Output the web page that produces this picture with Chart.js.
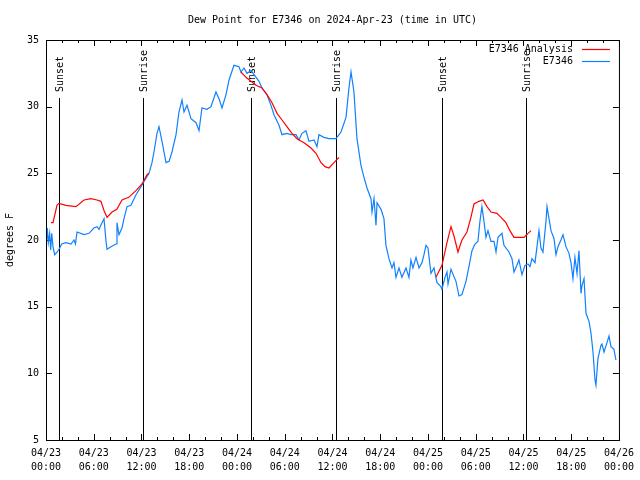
<!DOCTYPE html>
<html lang="en">
<head>
  <meta charset="UTF-8">
  <title>Dew Point for E7346</title>
  <script src="https://cdn.jsdelivr.net/npm/chart.js"></script>
  <style>
    body {
      margin: 0;
      background-color: #fff;
    }
    canvas {
      display: block;
    }
  </style>
</head>
<body>
  <canvas id="chart" width="640" height="480"></canvas>

  <script>
    // hours since 04/23 00:00 UTC
    const blueHours = [
      0, 0.16, 0.29, 0.46, 0.59, 0.72, 0.88, 1.09, 1.42, 1.72, 1.97, 2.51, 3.14, 3.52, 3.7, 3.9,
      4.78, 5.4, 6.03, 6.41, 6.66, 7.04, 7.29, 7.54, 7.67, 8.17, 8.8, 8.92, 9.17, 9.55, 9.8,
      10.18, 10.68, 11.31, 11.94, 12.32, 12.94, 13.32, 13.57, 13.95, 14.2, 14.58, 15.08, 15.46,
      15.83, 16.34, 16.71, 17.09, 17.34, 17.72, 18.22, 18.85, 19.23, 19.6, 20.23, 20.73, 21.36,
      21.74, 22.12, 22.62, 23.0, 23.62, 24.25, 24.5, 24.88, 25.26, 25.76, 26.14, 26.77, 27.14,
      27.77, 28.27, 28.65, 29.28, 29.66, 30.28, 30.79, 31.42, 31.79, 32.17, 32.67, 33.05, 33.68,
      34.05, 34.3, 34.93, 35.56, 36.44, 37.07, 37.7, 38.07, 38.33, 38.7, 39.08, 39.58, 39.96,
      40.34, 40.84, 40.97, 41.22, 41.47, 41.6, 42.1, 42.47, 42.72, 43.1, 43.48, 43.73, 43.98,
      44.36, 44.73, 45.24, 45.61, 45.86, 46.11, 46.5, 46.87, 47.25, 47.5, 47.75, 48.0, 48.38,
      48.76, 49.13, 49.63, 49.76, 50.14, 50.39, 50.52, 50.89, 51.52, 51.9, 52.27, 52.78, 53.15,
      53.53, 53.9, 54.28, 54.53, 54.78, 55.04, 55.29, 55.54, 55.92, 56.3, 56.55, 56.8, 57.3,
      57.55, 58.18, 58.56, 58.81, 59.18, 59.43, 59.81, 60.19, 60.57, 60.82, 61.07, 61.45, 61.7,
      61.95, 62.2, 62.45, 62.83, 62.96, 63.21, 63.46, 63.84, 64.09, 64.34, 64.71, 64.97, 65.34,
      65.72, 65.97, 66.22, 66.47, 66.73, 66.98, 67.23, 67.36, 67.61, 67.86, 68.24, 68.49, 68.74,
      68.99, 69.11, 69.36, 69.74, 69.87, 70.12, 70.5, 70.75, 71.0, 71.37, 71.62
    ];
    const blueValues = [
      19.25, 20.9, 19.8, 20.5, 19.25, 20.5, 19.5, 18.9, 19.1, 19.4, 19.7, 19.8, 19.7, 20.0, 19.7, 20.6,
      20.4, 20.5, 20.9, 21.0, 20.8, 21.3, 21.6, 19.9, 19.3, 19.5, 19.7, 21.3, 20.4, 20.9, 21.6,
      22.5, 22.6, 23.4, 24.0, 24.4, 25.0, 25.8, 26.6, 28.0, 28.5, 27.4, 25.8, 25.9,
      26.6, 27.9, 29.6, 30.5, 29.6, 30.1, 29.1, 28.8, 28.2, 29.9, 29.8, 30.0, 31.1,
      30.6, 29.9, 30.9, 32.0, 33.1, 33.0, 32.6, 32.9, 32.5, 32.7, 32.4, 31.9, 31.4,
      30.9, 30.1, 29.4, 28.6, 27.9, 28.0, 27.9, 27.9, 27.5, 28.0, 28.2, 27.4, 27.5,
      27.0, 27.9, 27.7, 27.6, 27.6, 28.1, 29.2, 31.4, 32.6, 31.1, 27.6, 25.6, 24.7,
      23.9, 23.1, 22.1, 23.1, 21.1, 22.8, 22.3, 21.6, 19.6, 18.6, 17.9, 18.3, 17.2,
      17.9, 17.2, 17.9, 17.2, 18.5, 17.9, 18.7, 17.9, 18.3, 18.9, 19.6, 19.4, 17.5,
      17.9, 16.8, 16.5, 16.3, 17.2, 17.6, 16.7, 17.8, 16.9, 15.8, 15.9, 16.9, 18.0,
      19.2, 19.7, 19.9, 21.4, 22.5, 21.4, 20.2, 20.7, 19.9, 19.9, 19.1, 20.2, 20.5,
      19.6, 19.1, 18.6, 17.6, 18.1, 18.5, 17.4, 18.1, 18.2, 18.0, 18.6, 18.3, 19.5,
      20.7, 19.4, 19.1, 21.4, 22.5, 21.6, 20.7, 20.1, 18.9, 19.5, 20.0, 20.4, 19.5,
      19.0, 18.3, 17.1, 18.7, 17.5, 19.2, 16.0, 16.6, 17.1, 14.5, 13.9, 13.0, 11.6,
      9.5, 9.1, 11.1, 12.1, 12.2, 11.6, 12.3, 12.8, 12.0, 11.8, 11.0
    ];

    // analysis series, null breaks the line between runs
    const redHours = [
      0.63, 0.88, 1.38, 1.63, 2.5, 3.77, 4.78, 5.65, 6.4, 6.9, 7.3, 7.67, 8.3, 8.9, 9.55, 10.4,
      11.3, 12.06, 12.7, 12.94,
      18,
      24.5, 25.13, 25.76, 26.39, 27.14, 27.77, 28.4, 29.03, 29.66, 30.28, 30.91, 31.54, 32.42,
      33.3, 33.93, 34.56, 35.06, 35.56, 36.19, 36.82,
      42,
      49.0, 49.76, 50.39, 50.89, 51.27, 51.77, 52.27, 52.9, 53.4, 53.78, 54.4, 54.92, 55.42,
      55.92, 56.67, 57.18, 57.8, 58.3, 58.8, 60.07, 60.57, 60.95
    ];
    const redValues = [
      21.3, 21.3, 22.6, 22.75, 22.6, 22.5, 23.0, 23.1, 23.0, 22.9, 22.2, 21.7, 22.1, 22.3, 23.0, 23.2,
      23.7, 24.2, 24.9, 25.0,
      null,
      32.6, 32.2, 31.9, 31.6, 31.4, 30.9, 30.3, 29.5, 29.0, 28.5, 28.0, 27.6, 27.3,
      26.9, 26.5, 25.8, 25.5, 25.4, 25.8, 26.2,
      null,
      17.2, 18.1, 19.8, 21.0, 20.3, 19.1, 20.0, 20.6, 21.7, 22.7, 22.9, 23.0, 22.5,
      22.1, 22.0, 21.7, 21.3, 20.7, 20.2, 20.2, 20.5, 20.7
    ];

    const eventHours = [1.6, 12.2, 25.7, 36.4, 49.8, 60.35];
    const eventLabels = ['Sunset', 'Sunrise', 'Sunset', 'Sunrise', 'Sunset', 'Sunrise'];

    const yTicks = [5, 10, 15, 20, 25, 30, 35];
    const startDay = 23; // 04/23

    const monoFont = "'DejaVu Sans Mono', 'Liberation Mono', monospace";
    const redColor = '#ff0000';
    const blueColor = 'rgb(16, 128, 255)';

    const toPoints = (xs, ys) => xs.map((x, i) => ({ x: x, y: ys[i] }));

    function pad(n) {
      return n.toString().padStart(2, '0');
    }

    // frame, inward ticks, sunrise/sunset markers and the key, gnuplot style
    const decorations = {
      id: 'decorations',
      beforeDatasetsDraw(chart) {
        const ctx = chart.ctx;
        const area = chart.chartArea;
        const xs = chart.scales.x;
        const ys = chart.scales.y;
        ctx.save();
        ctx.strokeStyle = '#000';
        ctx.lineWidth = 1;

        ctx.beginPath();
        for (let h = 0; h <= 72; h += 2) {
          const px = Math.round(xs.getPixelForValue(h)) + 0.5;
          const len = h % 6 === 0 ? 6 : 3;
          ctx.moveTo(px, area.bottom);
          ctx.lineTo(px, area.bottom - len);
          ctx.moveTo(px, area.top);
          ctx.lineTo(px, area.top + len);
        }
        yTicks.forEach(v => {
          const py = Math.round(ys.getPixelForValue(v)) + 0.5;
          ctx.moveTo(area.left, py);
          ctx.lineTo(area.left + 6, py);
          ctx.moveTo(area.right, py);
          ctx.lineTo(area.right - 6, py);
        });
        ctx.stroke();

        // event lines
        ctx.font = '10px ' + monoFont;
        ctx.fillStyle = '#000';
        eventHours.forEach((h, i) => {
          const px = Math.round(xs.getPixelForValue(h)) + 0.5;
          ctx.beginPath();
          ctx.moveTo(px, area.top + 58);
          ctx.lineTo(px, area.bottom);
          ctx.stroke();
          ctx.save();
          ctx.translate(px + 1, area.top + 52);
          ctx.rotate(-Math.PI / 2);
          ctx.textAlign = 'left';
          ctx.textBaseline = 'middle';
          ctx.fillText(eventLabels[i], 0, 0);
          ctx.restore();
        });
        ctx.restore();
      },
      afterDraw(chart) {
        const ctx = chart.ctx;
        const area = chart.chartArea;
        ctx.save();
        ctx.strokeStyle = '#000';
        ctx.lineWidth = 1;
        ctx.strokeRect(area.left + 0.5, area.top + 0.5, area.right - area.left, area.bottom - area.top);

        // key
        ctx.font = '10px ' + monoFont;
        ctx.textAlign = 'right';
        ctx.textBaseline = 'middle';
        ctx.fillStyle = '#000';
        const keyColors = [redColor, blueColor];
        chart.data.datasets.forEach((ds, i) => {
          const y = area.top + 9.5 + i * 12;
          ctx.fillText(ds.label, area.right - 46, y);
          ctx.strokeStyle = keyColors[i];
          ctx.lineWidth = 1.2;
          ctx.beginPath();
          ctx.moveTo(area.right - 37, y);
          ctx.lineTo(area.right - 9, y);
          ctx.stroke();
        });
        ctx.restore();
      }
    };

    new Chart(document.getElementById('chart'), {
      type: 'line',
      data: {
        datasets: [
          {
            label: 'E7346 Analysis',
            data: toPoints(redHours, redValues),
            borderColor: redColor,
            borderWidth: 1.2,
            pointRadius: 0,
            tension: 0,
            spanGaps: false,
          },
          {
            label: 'E7346',
            data: toPoints(blueHours, blueValues),
            borderColor: blueColor,
            borderWidth: 1.2,
            pointRadius: 0,
            tension: 0,
          },
        ],
      },
      options: {
        responsive: false,
        animation: false,
        layout: {
          padding: { left: 0, right: 19, top: 0, bottom: 0 },
        },
        plugins: {
          legend: { display: false },
          tooltip: { enabled: false },
          title: {
            display: true,
            text: 'Dew Point for E7346 on 2024-Apr-23 (time in UTC)',
            fullSize: false,
            color: '#000',
            font: { family: monoFont, size: 10, weight: 'normal' },
            padding: { top: 14, bottom: 14 },
          },
        },
        scales: {
          x: {
            type: 'linear',
            min: 0,
            max: 72,
            grid: { display: false, drawTicks: false },
            border: { display: false },
            afterFit: scale => { scale.height = 40; },
            ticks: {
              stepSize: 6,
              padding: 6,
              maxRotation: 0,
              color: '#000',
              font: { family: monoFont, size: 10, lineHeight: 1.45 },
              callback: v => {
                const day = startDay + Math.floor(v / 24);
                return ['04/' + pad(day), pad(v % 24) + ':00'];
              },
            },
          },
          y: {
            min: 5,
            max: 35,
            grid: { display: false, drawTicks: false },
            border: { display: false },
            afterFit: scale => { scale.width = 46; },
            title: {
              display: true,
              text: 'degrees F',
              color: '#000',
              font: { family: monoFont, size: 10 },
              padding: { top: 4, bottom: 0 },
            },
            ticks: {
              stepSize: 5,
              padding: 7,
              color: '#000',
              font: { family: monoFont, size: 10 },
            },
          },
        },
      },
      plugins: [decorations],
    });
  </script>
</body>
</html>
